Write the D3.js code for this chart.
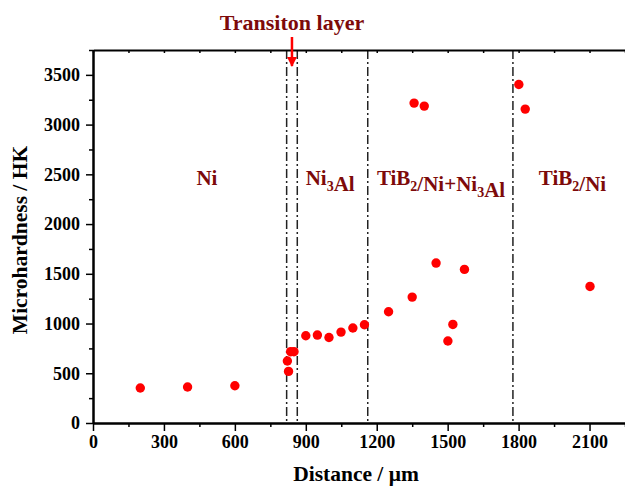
<!DOCTYPE html>
<html>
<head>
<meta charset="utf-8">
<script src="https://cdn.jsdelivr.net/npm/d3@7"></script>
<style>
  body { margin: 0; background: #fff; }
  svg { display: block; font-family: "Liberation Serif", "DejaVu Serif", serif; font-weight: bold; }
</style>
</head>
<body>
<div id="chart"></div>
<script>
// measured points (distance in um, hardness in HK)
var distance = [200, 400, 600, 822, 827, 836, 850, 900, 949, 998, 1049, 1099, 1148, 1250,
                1350, 1358, 1401, 1451, 1501, 1522, 1571, 1801, 1828, 2102];
var hardness = [352, 362, 375, 623, 519, 717, 717, 877, 884, 860, 914, 955, 988, 1118,
                1266, 3216, 3186, 1608, 824, 991, 1544, 3403, 3156, 1373];

// layer boundaries (dash-dot lines)
var boundaries = [819, 864, 1162, 1776];

// zone labels: text pieces with optional subscript, and x centre
var zoneNames = [
    [["Ni", ""]],
    [["Ni", "3"], ["Al", ""]],
    [["TiB", "2"], ["/Ni+Ni", "3"], ["Al", ""]],
    [["TiB", "2"], ["/Ni", ""]]
];
var zoneCenters = [482, 1003, 1472, 2028];

var xTicks = [0, 300, 600, 900, 1200, 1500, 1800, 2100];
var yTicks = [0, 500, 1000, 1500, 2000, 2500, 3000, 3500];

var svgWidth = 625, svgHeight = 486;
var margin = { top: 50, right: 0, bottom: 63, left: 93 };
var chartWidth = svgWidth - margin.left - margin.right;
var chartHeight = svgHeight - margin.top - margin.bottom;

var svg = d3.select("#chart").append("svg")
    .attr("width", svgWidth)
    .attr("height", svgHeight);

var g = svg.append("g")
    .attr("transform", `translate(${margin.left}, ${margin.top})`);

var xScale = d3.scaleLinear().domain([0, 2250]).range([0, chartWidth]);
var yScale = d3.scaleLinear().domain([0, 3750]).range([chartHeight, 0]);

var darkRed = "#7d0a0a";

// dash-dot boundary lines
g.selectAll("line.bound")
    .data(boundaries)
    .enter().append("line")
    .attr("class", "bound")
    .attr("x1", d => xScale(d)).attr("x2", d => xScale(d))
    .attr("y1", 0).attr("y2", chartHeight)
    .attr("stroke", "#222")
    .attr("stroke-width", 1.5)
    .attr("stroke-dasharray", "9,3,2,3");

// minor ticks
var minorX = d3.range(0, 2251, 150);
var minorY = d3.range(0, 3751, 250);

// bottom axis
g.append("g")
    .attr("transform", `translate(0, ${chartHeight})`)
    .call(d3.axisBottom(xScale).tickValues(xTicks).tickFormat(d3.format("d"))
        .tickSize(8).tickPadding(4).tickSizeOuter(0));
g.append("g")
    .attr("transform", `translate(0, ${chartHeight})`)
    .call(d3.axisBottom(xScale).tickValues(minorX.filter(v => v % 300 != 0)).tickSize(4).tickFormat("").tickSizeOuter(0));

// top axis, ticks inward
g.append("g")
    .call(d3.axisTop(xScale).tickValues(minorX).tickSize(-3).tickFormat("").tickSizeOuter(0));

// left axis
g.append("g")
    .call(d3.axisLeft(yScale).tickValues(yTicks).tickFormat(d3.format("d"))
        .tickSize(7).tickPadding(6).tickSizeOuter(0));
g.append("g")
    .call(d3.axisLeft(yScale).tickValues(minorY.filter(v => v % 500 != 0)).tickSize(4).tickFormat("").tickSizeOuter(0));

g.selectAll(".domain").attr("stroke", "#000").attr("stroke-width", 2);
g.selectAll(".tick line").attr("stroke", "#000").attr("stroke-width", 1.5);
g.selectAll(".tick text")
    .attr("font-family", "Liberation Serif")
    .attr("font-weight", "bold")
    .attr("font-size", 18)
    .attr("fill", "#000");

// points
g.selectAll("circle")
    .data(distance.map((d, i) => [d, hardness[i]]))
    .enter().append("circle")
    .attr("cx", d => xScale(d[0]))
    .attr("cy", d => yScale(d[1]))
    .attr("r", 4.7)
    .attr("fill", "#ff0000");

// zone labels
var zoneText = g.selectAll("text.zone")
    .data(zoneNames)
    .enter().append("text")
    .attr("class", "zone")
    .attr("x", (d, i) => xScale(zoneCenters[i]))
    .attr("y", yScale(2395))
    .attr("text-anchor", "middle")
    .attr("font-size", 21)
    .attr("fill", darkRed);

zoneText.each(function(parts) {
    var t = d3.select(this);
    parts.forEach(function(p) {
        t.append("tspan").text(p[0]);
        if (p[1]) {
            t.append("tspan").attr("font-size", 14).attr("dy", 6).text(p[1]);
            t.append("tspan").attr("dy", -6).text("");
        }
    });
});

// transition layer label and arrow
var arrowX = xScale((boundaries[0] + boundaries[1]) / 2);
svg.append("defs").append("marker")
    .attr("id", "head")
    .attr("viewBox", "0 0 10 10")
    .attr("refX", 9).attr("refY", 5)
    .attr("markerWidth", 4).attr("markerHeight", 4)
    .attr("orient", "auto")
    .append("path")
    .attr("d", "M0,0 L10,5 L0,10 Z")
    .attr("fill", "#ff0000");

g.append("text")
    .attr("x", arrowX)
    .attr("y", -20)
    .attr("text-anchor", "middle")
    .attr("font-size", 22)
    .attr("fill", darkRed)
    .text("Transiton layer");

g.append("line")
    .attr("x1", arrowX).attr("x2", arrowX)
    .attr("y1", -13).attr("y2", 16)
    .attr("stroke", "#ff0000")
    .attr("stroke-width", 2.5)
    .attr("marker-end", "url(#head)");

// axis titles
svg.append("text")
    .attr("x", 356)
    .attr("y", 481)
    .attr("text-anchor", "middle")
    .attr("font-size", 21.5)
    .attr("fill", "#000")
    .text("Distance / \u03bcm");

svg.append("text")
    .attr("transform", "translate(27, 240) rotate(-90)")
    .attr("text-anchor", "middle")
    .attr("font-size", 21.5)
    .attr("fill", "#000")
    .text("Microhardness / HK");
</script>
</body>
</html>
